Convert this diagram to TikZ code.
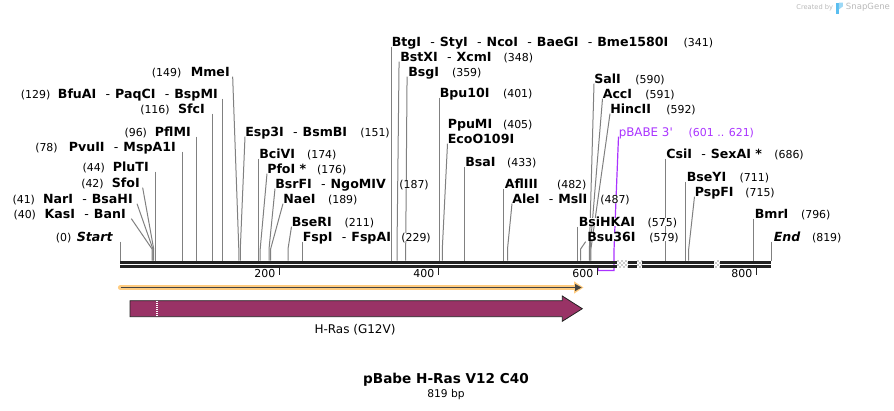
\documentclass[tikz,border=0pt]{standalone}
\usepackage{fontspec}
\setmainfont{DejaVu Sans}
\usetikzlibrary{arrows.meta,patterns}
\pgfdeclarelayer{background}
\pgfsetlayers{background,main}

\definecolor{sitegray}{RGB}{128,128,128}
\definecolor{bardark}{RGB}{34,34,34}
\definecolor{rasred}{RGB}{153,51,102}
\definecolor{orfglow}{RGB}{255,204,128}
\definecolor{primerviolet}{RGB}{170,51,255}
\definecolor{markgray}{RGB}{185,185,185}
\definecolor{snapblue}{RGB}{90,190,240}

\newcommand{\sep}{\hspace{7pt}{\mdseries -}\hspace{3.7pt}}

\tikzset{
	enz/.style={inner sep=0pt, fill=white, text height=6.6pt, text depth=0pt, font=\fontsize{9.45}{10}\selectfont\bfseries},
	num/.style={inner sep=0pt, fill=white, text height=6.6pt, text depth=0pt, font=\fontsize{8.2}{9}\selectfont},
	cut/.style={draw=sitegray, line width=0.75pt},
}

\begin{document}
\begin{tikzpicture}[x=0.75pt, y=-0.75pt]
	\useasboundingbox (0,0) rectangle (894,411);

	% cut positions on the top of the bar
	\coordinate (c0) at (120.3,260.5);
	\coordinate (c40) at (152.1,260.5);
	\coordinate (c41) at (152.9,260.5);
	\coordinate (c42) at (153.7,260.5);
	\coordinate (c44) at (155.3,260.5);
	\coordinate (c78) at (182.3,260.5);
	\coordinate (c96) at (196.6,260.5);
	\coordinate (c116) at (212.5,260.5);
	\coordinate (c129) at (222.9,260.5);
	\coordinate (c149) at (238.8,260.5);
	\coordinate (c151) at (240.3,260.5);
	\coordinate (c174) at (258.6,260.5);
	\coordinate (c176) at (260.2,260.5);
	\coordinate (c187) at (269.0,260.5);
	\coordinate (c189) at (270.6,260.5);
	\coordinate (c211) at (288.0,260.5);
	\coordinate (c229) at (302.4,260.5);
	\coordinate (c341) at (391.4,260.5);
	\coordinate (c348) at (397.0,260.5);
	\coordinate (c359) at (405.7,260.5);
	\coordinate (c401) at (439.1,260.5);
	\coordinate (c405) at (442.3,260.5);
	\coordinate (c433) at (464.5,260.5);
	\coordinate (c482) at (503.5,260.5);
	\coordinate (c487) at (507.5,260.5);
	\coordinate (c575) at (577.4,260.5);
	\coordinate (c579) at (580.6,260.5);
	\coordinate (c590) at (589.4,260.5);
	\coordinate (c591) at (590.1,260.5);
	\coordinate (c592) at (590.9,260.5);
	\coordinate (c686) at (665.7,260.5);
	\coordinate (c711) at (685.5,260.5);
	\coordinate (c715) at (688.7,260.5);
	\coordinate (c796) at (753.1,260.5);
	\coordinate (c819) at (771.4,260.5);

	% sequence bar
	\coordinate (bar0) at (120.3,262.3);
	\coordinate (bar819) at (771.4,262.3);
	\coordinate (low0) at (120.3,266.3);
	\coordinate (low819) at (771.4,266.3);
	\draw[bardark, line width=2.6pt] (bar0) -- (bar819);
	\draw[bardark, line width=1.9pt] (low0) -- (low819);
	\fill[white] (616.7,260.5) rectangle (628.3,267.6);
	\fill[white] (636.7,260.5) rectangle (642.3,267.6);
	\fill[white] (714.3,260.5) rectangle (720.0,267.6);
	\fill[pattern=crosshatch dots, pattern color=bardark] (616.7,260.5) rectangle (628.3,267.6);
	\fill[pattern=crosshatch dots, pattern color=bardark] (636.7,260.5) rectangle (642.3,267.6);
	\fill[pattern=crosshatch dots, pattern color=bardark] (714.3,260.5) rectangle (720.0,267.6);

	% ruler
	\coordinate (k200) at (279.3,267.5);
	\coordinate (k400) at (438.3,267.5);
	\coordinate (k600) at (597.3,267.5);
	\coordinate (k800) at (756.3,267.5);
	\draw[bardark, line width=1.1pt] (k200) -- ++(0,7.5);
	\draw[bardark, line width=1.1pt] (k400) -- ++(0,7.5);
	\draw[bardark, line width=1.1pt] (k600) -- ++(0,7.5);
	\draw[bardark, line width=1.1pt] (k800) -- ++(0,7.5);
	\node[num, anchor=east] (l200) at (275.5,273.5) {200};
	\node[num, anchor=east] (l400) at (434.5,273.5) {400};
	\node[num, anchor=east] (l600) at (593.5,273.5) {600};
	\node[num, anchor=east] (l800) at (752.5,273.5) {800};

	% sites left of their cut
	\node[enz, anchor=east] (mmeI) at (230,72) {MmeI};
	\node[num, anchor=west] (mmeIn) at (151.7,72) {(149)};
	\node[enz, anchor=east] (bfuAI) at (218,94) {BfuAI\sep PaqCI\sep BspMI};
	\node[num, anchor=west] (bfuAIn) at (20.7,94) {(129)};
	\node[enz, anchor=east] (sfcI) at (205,109) {SfcI};
	\node[num, anchor=west] (sfcIn) at (140,109) {(116)};
	\node[enz, anchor=east] (pflMI) at (191,132) {PflMI};
	\node[num, anchor=west] (pflMIn) at (124.3,132) {(96)};
	\node[enz, anchor=east] (pvuII) at (176,147) {PvuII\sep MspA1I};
	\node[num, anchor=west] (pvuIIn) at (35,147) {(78)};
	\node[enz, anchor=east] (pluTI) at (149,167) {PluTI};
	\node[num, anchor=west] (pluTIn) at (82.3,167) {(44)};
	\node[enz, anchor=east] (sfoI) at (140,183) {SfoI};
	\node[num, anchor=west] (sfoIn) at (81,183) {(42)};
	\node[enz, anchor=east] (narI) at (133,199) {NarI\sep BsaHI};
	\node[num, anchor=west] (narIn) at (12.3,199) {(41)};
	\node[enz, anchor=east] (kasI) at (126,214) {KasI\sep BanI};
	\node[num, anchor=west] (kasIn) at (13.3,214) {(40)};
	\node[enz, anchor=east] (start) at (113,237) {\itshape Start};
	\node[num, anchor=west] (startn) at (55.7,237) {(0)};

	% sites right of their cut
	\node[enz, anchor=west] (esp3I) at (245,132) {Esp3I\sep BsmBI};
	\node[num, anchor=east] (esp3In) at (390,132) {(151)};
	\node[enz, anchor=west] (bciVI) at (259,154) {BciVI};
	\node[num, anchor=east] (bciVIn) at (336.7,154) {(174)};
	\node[enz, anchor=west] (pfoI) at (267,169) {PfoI *};
	\node[num, anchor=east] (pfoIn) at (346.7,169) {(176)};
	\node[enz, anchor=west] (bsrFI) at (275,184) {BsrFI\sep NgoMIV};
	\node[num, anchor=east] (bsrFIn) at (429,184) {(187)};
	\node[enz, anchor=west] (naeI) at (283,199) {NaeI};
	\node[num, anchor=east] (naeIn) at (357.7,199) {(189)};
	\node[enz, anchor=west] (bseRI) at (291.5,222) {BseRI};
	\node[num, anchor=east] (bseRIn) at (374.3,222) {(211)};
	\node[enz, anchor=west] (fspI) at (302.5,237) {FspI\sep FspAI};
	\node[num, anchor=east] (fspIn) at (431,237) {(229)};
	\node[enz, anchor=west] (btgI) at (391.5,42) {BtgI\sep StyI\sep NcoI\sep BaeGI\sep Bme1580I};
	\node[num, anchor=east] (btgIn) at (713.3,42) {(341)};
	\node[enz, anchor=west] (bstXI) at (400,57) {BstXI\sep XcmI};
	\node[num, anchor=east] (bstXIn) at (533.3,57) {(348)};
	\node[enz, anchor=west] (bsgI) at (408,72) {BsgI};
	\node[num, anchor=east] (bsgIn) at (481.7,72) {(359)};
	\node[enz, anchor=west] (bpu10I) at (439.5,93) {Bpu10I};
	\node[num, anchor=east] (bpu10In) at (532.7,93) {(401)};
	\node[enz, anchor=west] (ppuMI) at (447.5,124) {PpuMI};
	\node[num, anchor=east] (ppuMIn) at (532.7,124) {(405)};
	\node[enz, anchor=west] (ecoO109I) at (447.5,139) {EcoO109I};
	\node[enz, anchor=west] (bsaI) at (465,162) {BsaI};
	\node[num, anchor=east] (bsaIn) at (536.7,162) {(433)};
	\node[enz, anchor=west] (aflIII) at (504.5,184) {AflIII};
	\node[num, anchor=east] (aflIIIn) at (586.7,184) {(482)};
	\node[enz, anchor=west] (aleI) at (512,199) {AleI\sep MslI};
	\node[num, anchor=east] (aleIn) at (630,199) {(487)};
	\node[enz, anchor=west] (bsiHKAI) at (578.5,222) {BsiHKAI};
	\node[num, anchor=east] (bsiHKAIn) at (677.3,222) {(575)};
	\node[enz, anchor=west] (bsu36I) at (587,237) {Bsu36I};
	\node[num, anchor=east] (bsu36In) at (679,237) {(579)};
	\node[enz, anchor=west] (salI) at (594,79) {SalI};
	\node[num, anchor=east] (salIn) at (665,79) {(590)};
	\node[enz, anchor=west] (accI) at (602.5,94) {AccI};
	\node[num, anchor=east] (accIn) at (675,94) {(591)};
	\node[enz, anchor=west] (hincII) at (610,109) {HincII};
	\node[num, anchor=east] (hincIIn) at (696,109) {(592)};
	\node[enz, anchor=west] (csiI) at (666,154) {CsiI\sep SexAI *};
	\node[num, anchor=east] (csiIn) at (804,154) {(686)};
	\node[enz, anchor=west] (bseYI) at (686.5,177) {BseYI};
	\node[num, anchor=east] (bseYIn) at (769.3,177) {(711)};
	\node[enz, anchor=west] (pspFI) at (694.5,192) {PspFI};
	\node[num, anchor=east] (pspFIn) at (775,192) {(715)};
	\node[enz, anchor=west] (bmrI) at (754.5,214) {BmrI};
	\node[num, anchor=east] (bmrIn) at (830.7,214) {(796)};
	\node[enz, anchor=west] (end) at (773.5,237) {\itshape End};
	\node[num, anchor=east] (endn) at (841.7,237) {(819)};

	% primer
	\coordinate (p601) at (598.1,270.5);
	\coordinate (p621) at (614.0,270.5);
	\node[enz, anchor=west, font=\fontsize{8.9}{10}\selectfont, text=primerviolet] (pbabe) at (618.5,132) {pBABE 3\textquotesingle};
	\node[num, anchor=east, text=primerviolet] (pbaben) at (754.3,132) {(601 .. 621)};

	% cut lines behind the labels
	\begin{pgfonlayer}{background}
	\draw[cut] ([xshift=2pt]mmeI.south east) -- ([yshift=8.6pt]c149) -- (c149);
	\draw[cut] (c129 |- bfuAI.south) -- (c129);
	\draw[cut] (c116 |- sfcI.south) -- (c116);
	\draw[cut] (c96 |- pflMI.south) -- (c96);
	\draw[cut] (c78 |- pvuII.south) -- (c78);
	\draw[cut] (c44 |- pluTI.south) -- (c44);
	\draw[cut] ([xshift=2pt]sfoI.south east) -- ([yshift=8.6pt]c42) -- (c42);
	\draw[cut] ([xshift=3pt]narI.south east) -- ([yshift=8.6pt]c41) -- (c41);
	\draw[cut] ([xshift=4pt]kasI.south east) -- ([yshift=8.6pt]c40) -- (c40);
	\draw[cut] (c0 |- start.south) -- (c0);

	\draw[cut] (esp3I.south west) -- ([yshift=8.6pt]c151) -- (c151);
	\draw[cut] (c174 |- bciVI.south) -- (c174);
	\draw[cut] (pfoI.south west) -- ([yshift=8.6pt]c176) -- (c176);
	\draw[cut] (bsrFI.south west) -- ([yshift=8.6pt]c187) -- (c187);
	\draw[cut] (naeI.south west) -- ([yshift=8.6pt]c189) -- (c189);
	\draw[cut] (bseRI.south west) -- ([yshift=8.6pt]c211) -- (c211);
	\draw[cut] (c229 |- fspI.south) -- (c229);
	\draw[cut] (c341 |- btgI.south) -- (c341);
	\draw[cut] ([xshift=-0.7pt]bstXI.south west) -- ([yshift=8.6pt]c348) -- (c348);
	\draw[cut] ([xshift=-0.7pt]bsgI.south west) -- ([yshift=8.6pt]c359) -- (c359);
	\draw[cut] (c401 |- bpu10I.south) -- (c401);
	\draw[cut] (ecoO109I.south west) -- ([yshift=8.6pt]c405) -- (c405);
	\draw[cut] (c433 |- bsaI.south) -- (c433);
	\draw[cut] (c482 |- aflIII.south) -- (c482);
	\draw[cut] (aleI.south west) -- ([yshift=8.6pt]c487) -- (c487);
	\draw[cut] (c575 |- bsiHKAI.south) -- (c575);
	\draw[cut] ([xshift=-1pt]bsu36I.south west) -- ([yshift=8.6pt]c579) -- (c579);
	\draw[cut] (salI.south west) -- ([yshift=8.6pt]c590) -- (c590);
	\draw[cut] (accI.south west) -- ([yshift=8.6pt]c591) -- (c591);
	\draw[cut] (hincII.south west) -- ([yshift=8.6pt]c592) -- (c592);
	\draw[cut] (c686 |- csiI.south) -- (c686);
	\draw[cut] (c711 |- bseYI.south) -- (c711);
	\draw[cut] (pspFI.south west) -- ([yshift=8.6pt]c715) -- (c715);
	\draw[cut] (c796 |- bmrI.south) -- (c796);
	\draw[cut] (c819 |- end.south) -- (c819);
	\draw[primerviolet, line width=0.9pt] (pbabe.south west) -- ([yshift=15pt]p621) -- (p621) -- (p601) -- ++(0,-3.5);
	\end{pgfonlayer}

	% orf and feature
	\coordinate (orf0) at (120.7,287.5);
	\coordinate (orf1) at (581.7,287.5);
	\draw[orfglow, line width=4.2pt, line cap=round, -{Triangle[length=7pt,width=8.5pt]}] (orf0) -- ([xshift=1.4pt]orf1);
	\draw[bardark!85, line width=1.2pt, -{Triangle[length=5pt,width=5pt]}] (orf0) -- (orf1);
	\draw[draw=bardark, fill=rasred, line width=0.6pt] (130,300.7) -- (562.3,300.7) -- (562.3,296) -- (582.3,308.7)
		-- (562.3,321.3) -- (562.3,316.7) -- (130,316.7) -- cycle;
	\draw[white, line width=1.3pt, dash pattern=on 0.75pt off 0.75pt] (157.3,301.3) -- (157.3,316.1);
	\node[font=\fontsize{9}{11}\selectfont] (hras) at (355,330) {H-Ras (G12V)};

	% title
	\node[font=\fontsize{10.2}{12}\selectfont\bfseries] (title) at (446,380) {pBabe H-Ras V12 C40};
	\node[font=\fontsize{8}{10}\selectfont] (size) at (446,394.5) {819 bp};

	% watermark
	\node[anchor=east, inner sep=0pt, markgray, font=\fontsize{5}{6}\selectfont] (created) at (833.3,7.5) {Created by};
	\fill[snapblue] (836.3,2.5) rectangle (838.8,13.5);
	\fill[snapblue!60] (838.8,2.5) -- (842.8,2.5) -- (842.8,6.5) -- (838.8,9.5) -- cycle;
	\node[anchor=west, inner sep=0pt, markgray, font=\fontsize{6.4}{7}\selectfont] (snapgene) at (845.7,7.5) {SnapGene};
\end{tikzpicture}
\end{document}
